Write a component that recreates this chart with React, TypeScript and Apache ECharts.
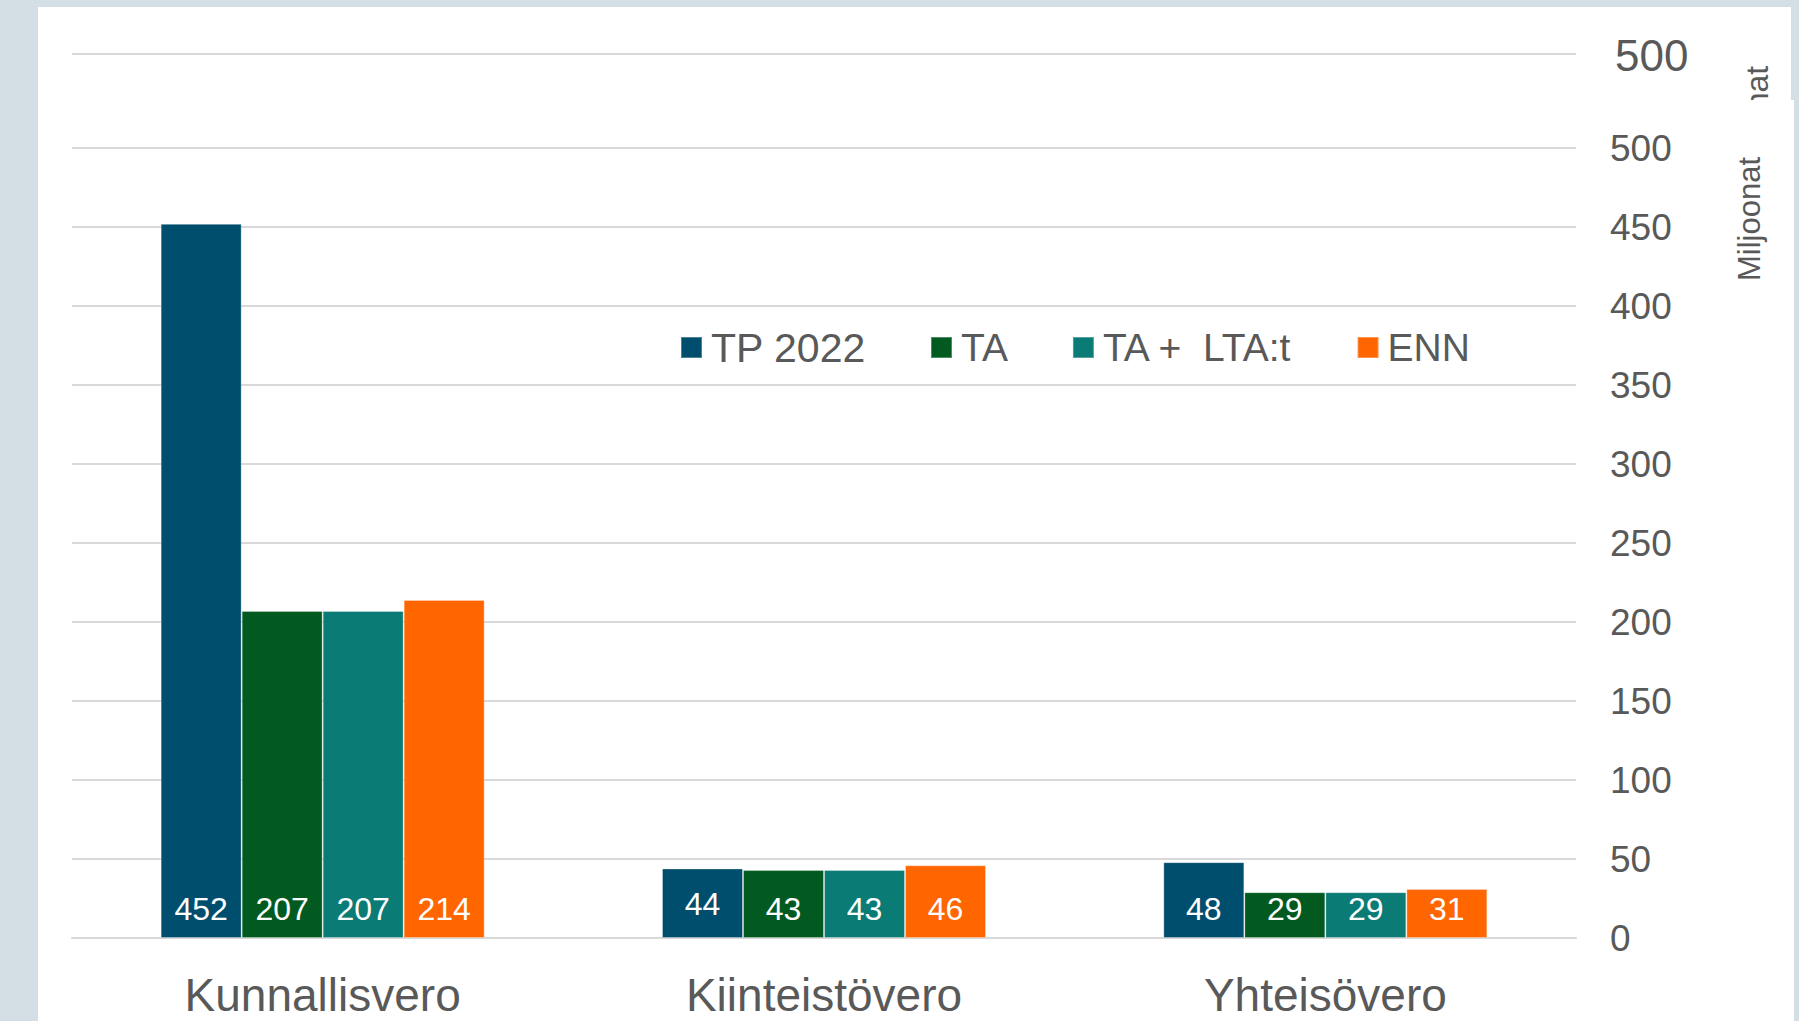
import React, { useEffect, useRef } from "react";
import * as echarts from "echarts";

const categories = ["Kunnallisvero", "Kiinteistövero", "Yhteisövero"];
const seriesNames = ["TP 2022", "TA", "TA +  LTA:t", "ENN"];
const tp2022 = [452, 44, 48];
const ta = [207, 43, 29];
const taLta = [207, 43, 29];
const enn = [214, 46, 31];
const colors = ["#004e6d", "#035a20", "#0b7b76", "#ff6600"];
const yTicks = { min: 0, max: 500, interval: 50 };
const axisTitle = "Miljoonat";
const ghostTitleFragment = "nat";
const ghostTick = "500";

const FONT = "'Liberation Sans', Arial, sans-serif";
const GRAY = "#595959";

export default function App() {
  const ref = useRef<HTMLDivElement>(null);
  useEffect(() => {
    if (!ref.current) return;
    const chart = echarts.init(ref.current, null, { renderer: "svg" });
    const values = [tp2022, ta, taLta, enn];
    chart.setOption({
      animation: false,
      backgroundColor: "transparent",
      textStyle: { fontFamily: FONT },
      grid: { left: 72, right: 223, top: 148, bottom: 83, containLabel: false },
      legend: {
        left: 680,
        top: 327,
        itemWidth: 21,
        itemHeight: 21,
        itemGap: 64,
        padding: 0,
        icon: "rect",
        textStyle: { fontSize: 39, color: GRAY, fontFamily: FONT, padding: [0, 0, 0, 4] },
        data: seriesNames.map((n, i) =>
          i === 0 ? { name: n, textStyle: { fontSize: 41 } } : { name: n }
        ),
      },
      xAxis: {
        type: "category",
        data: categories,
        axisLine: { show: true, lineStyle: { color: "#d9d9d9", width: 2 } },
        axisTick: { show: false },
        axisLabel: { fontSize: 46, color: GRAY, margin: 34, fontFamily: FONT },
      },
      yAxis: {
        type: "value",
        position: "right",
        min: yTicks.min,
        max: yTicks.max,
        interval: yTicks.interval,
        axisLine: { show: false },
        axisTick: { show: false },
        splitLine: { lineStyle: { color: "#d9d9d9", width: 2 } },
        axisLabel: { fontSize: 37, color: GRAY, margin: 34, align: "left", fontFamily: FONT },
      },
      series: values.map((arr, i) => ({
        name: seriesNames[i],
        type: "bar",
        barWidth: 81,
        barGap: "0%",
        itemStyle: { color: colors[i], borderColor: "rgba(255,255,255,0.3)", borderWidth: 1 },
        label: {
          show: true,
          position: "insideBottom",
          distance: 13,
          color: "#ffffff",
          fontSize: 32,
          fontFamily: FONT,
        },
        data: arr.map((v, j) =>
          i === 0 && j === 1 ? { value: v, label: { offset: [0, -5] } } : v
        ),
      })),
      graphic: [
        {
          type: "line",
          z: 1,
          shape: { x1: 72, y1: 54, x2: 1576, y2: 54 },
          style: { stroke: "#d9d9d9", lineWidth: 2 },
        },
        {
          type: "text",
          z: 1,
          x: 1615,
          y: 55,
          style: {
            text: ghostTick,
            fontSize: 44,
            fill: GRAY,
            fontFamily: FONT,
            align: "left",
            verticalAlign: "middle",
          },
        },
        {
          type: "text",
          z: 1,
          x: 1757,
          y: 88,
          rotation: Math.PI / 2,
          style: {
            text: ghostTitleFragment,
            fontSize: 32,
            fill: GRAY,
            fontFamily: FONT,
            align: "center",
            verticalAlign: "middle",
          },
        },
        {
          type: "rect",
          z: 2,
          shape: { x: 1725, y: 100, width: 69, height: 52 },
          style: { fill: "#ffffff" },
        },
        {
          type: "text",
          z: 3,
          x: 1749,
          y: 219,
          rotation: Math.PI / 2,
          style: {
            text: axisTitle,
            fontSize: 31,
            fill: GRAY,
            fontFamily: FONT,
            align: "center",
            verticalAlign: "middle",
          },
        },
      ],
    });
    return () => chart.dispose();
  }, []);

  return (
    <div style={{ position: "fixed", left: 0, top: 0, width: 1799, height: 1021, background: "#d3dfe5", overflow: "hidden" }}>
      <div style={{ position: "absolute", left: 38, top: 7, width: 1753, height: 93, background: "#ffffff" }} />
      <div style={{ position: "absolute", left: 38, top: 100, width: 1756, height: 921, background: "#ffffff" }} />
      <div ref={ref} style={{ position: "absolute", left: 0, top: 0, width: 1799, height: 1021 }} />
    </div>
  );
}
